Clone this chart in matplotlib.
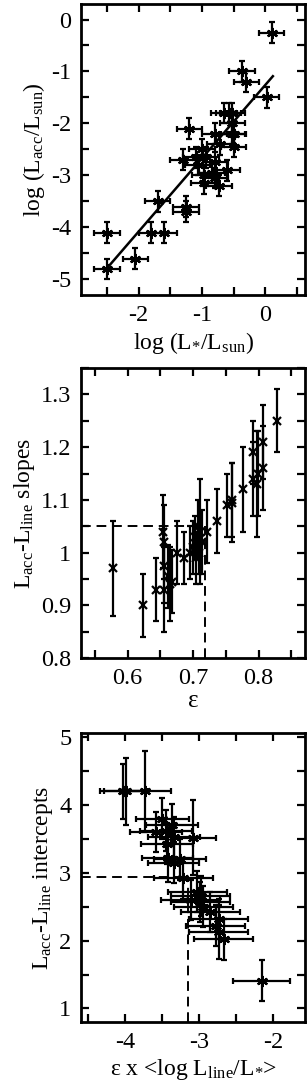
import matplotlib
matplotlib.use('Agg')
import matplotlib.pyplot as plt
import numpy as np
from matplotlib.ticker import MultipleLocator

# panel 1: log Lacc vs log L*
lstar = [0.10, -0.37, -0.30, 0.02, -1.20, -0.65, -0.58, -0.52, -0.52, -0.52, -0.50,
         -0.80, -0.50, -0.72, -1.00, -1.30, -1.10, -0.93, -1.07, -0.79, -0.84, -0.79,
         -0.60, -0.97, -0.73, -0.96, -1.70, -1.25, -1.25, -2.50, -1.80, -1.60, -2.05, -2.50]
lacc = [-0.25, -1.00, -1.20, -1.50, -2.10, -1.80, -1.80, -1.80, -2.00, -2.20, -2.20,
        -2.20, -2.45, -2.40, -2.50, -2.70, -2.65, -2.65, -2.80, -2.75, -2.95, -3.05,
        -2.90, -3.15, -3.20, -3.00, -3.50, -3.60, -3.70, -4.10, -4.10, -4.10, -4.60, -4.80]
fit_slope = 1.41
fit_icpt = -1.26
fit_x = [-2.52, 0.12]

# panel 2: slopes vs epsilon
eps = [0.578, 0.623, 0.643, 0.654, 0.655, 0.655, 0.656, 0.662, 0.665, 0.668,
       0.676, 0.686, 0.695, 0.700, 0.703, 0.705, 0.707, 0.709, 0.711, 0.714,
       0.721, 0.736, 0.752, 0.759, 0.760, 0.776, 0.792, 0.792, 0.797, 0.799,
       0.806, 0.806, 0.828]
slope = [0.97, 0.90, 0.93, 1.04, 1.02, 0.975, 0.93, 0.955, 0.94, 0.945,
         1.00, 0.99, 1.00, 1.01, 1.03, 0.99, 1.05, 1.00, 1.04, 1.02,
         1.04, 1.06, 1.09, 1.10, 1.095, 1.12, 1.19, 1.14, 1.13, 1.15,
         1.21, 1.16, 1.25]
slope_err = [0.09, 0.06, 0.06, 0.07, 0.07, 0.07, 0.08, 0.06, 0.07, 0.06,
             0.06, 0.05, 0.05, 0.05, 0.04, 0.05, 0.05, 0.04, 0.10, 0.06,
             0.06, 0.06, 0.06, 0.07, 0.075, 0.08, 0.06, 0.07, 0.10, 0.08,
             0.07, 0.08, 0.06]
eps_mark = 0.718
slope_mark = 1.05

# panel 3: intercepts vs eps x <log Lline/L*>
elog = [-4.03, -3.99, -3.73, -3.50, -3.59, -3.45, -3.37, -3.34, -3.08, -3.44,
        -3.43, -3.26, -3.35, -3.22, -3.03, -3.12, -2.98, -2.99, -2.95, -2.85,
        -2.74, -2.78, -2.74, -2.67, -2.16]
icpt = [4.20, 4.20, 4.20, 3.80, 3.60, 3.62, 3.71, 3.53, 3.52, 3.43,
        3.22, 3.20, 3.15, 2.92, 2.72, 2.60, 2.66, 2.57, 2.50, 2.42,
        2.32, 2.22, 2.13, 2.02, 1.41]
elog_err = [0.32, 0.30, 0.35, 0.36, 0.35, 0.35, 0.35, 0.35, 0.30, 0.35,
            0.35, 0.35, 0.35, 0.40, 0.40, 0.40, 0.40, 0.40, 0.40, 0.40,
            0.40, 0.40, 0.40, 0.40, 0.38]
icpt_err = [0.40, 0.50, 0.60, 0.30, 0.30, 0.30, 0.30, 0.30, 0.55, 0.30,
            0.35, 0.30, 0.30, 0.30, 0.30, 0.30, 0.30, 0.30, 0.30, 0.30,
            0.30, 0.30, 0.40, 0.30, 0.30]
elog_mark = -3.16
icpt_mark = 2.94

plt.rcParams['font.family'] = ['Liberation Serif', 'DejaVu Serif']
plt.rcParams['mathtext.fontset'] = 'custom'
plt.rcParams['mathtext.rm'] = 'Liberation Serif'
plt.rcParams['mathtext.it'] = 'Liberation Serif:italic'
plt.rcParams['axes.unicode_minus'] = False
plt.rcParams['font.size'] = 15

fig = plt.figure(figsize=(3.07, 10.9), dpi=100)
ax1 = fig.add_axes([0.264, 0.7294, 0.73, 0.267])
ax2 = fig.add_axes([0.264, 0.3963, 0.73, 0.266])
ax3 = fig.add_axes([0.264, 0.0624, 0.73, 0.265])


def style(ax, xmaj, xmin, ymaj, ymin):
    for s in ax.spines.values():
        s.set_linewidth(2)
    ax.xaxis.set_major_locator(MultipleLocator(xmaj))
    ax.xaxis.set_minor_locator(MultipleLocator(xmin))
    ax.yaxis.set_major_locator(MultipleLocator(ymaj))
    ax.yaxis.set_minor_locator(MultipleLocator(ymin))
    ax.tick_params(which='both', direction='in', top=True, right=True,
                   length=6, width=1.6)
    ax.tick_params(which='major', labelsize=17.5, pad=7)


ekw = dict(fmt='none', ecolor='k', elinewidth=1.6, capsize=2.5, capthick=1.6)
star = (6, 2, 0)

# panel 1
ax1.errorbar(lstar, lacc, xerr=0.2, yerr=0.2, **ekw)
ax1.plot(lstar, lacc, ls='none', marker=star, ms=8, mec='k', mew=1.6)
fx = np.array(fit_x)
ax1.plot(fx, fit_slope * fx + fit_icpt, color='k', lw=1.8)
ax1.set_xlim(-2.91, 0.63)
ax1.set_ylim(-5.3, 0.3)
style(ax1, 1, 0.5, 1, 0.5)
ax1.set_xlabel(r'log (L$_{\mathrm{*}}$/L$_{\rm sun}$)', fontsize=17, labelpad=3)
ax1.set_ylabel(r'log (L$_{\rm acc}$/L$_{\rm sun}$)', fontsize=17, labelpad=3)

# panel 2
ax2.errorbar(eps, slope, yerr=slope_err, **ekw)
ax2.plot(eps, slope, ls='none', marker='x', ms=6, mec='k', mew=1.6)
ax2.set_xlim(0.529, 0.871)
ax2.set_ylim(0.8, 1.35)
ax2.plot([0.529, eps_mark], [slope_mark, slope_mark], color='k', lw=1.4, ls=(0, (5, 3)))
ax2.plot([eps_mark, eps_mark], [0.8, slope_mark], color='k', lw=1.4, ls=(0, (5, 3)))
style(ax2, 0.1, 0.05, 0.1, 0.05)
ax2.set_yticks([0.8, 0.9, 1.0, 1.1, 1.2, 1.3], ['0.8', '0.9', '1', '1.1', '1.2', '1.3'])
ax2.set_xlabel('ε', fontsize=18, labelpad=1)
ax2.set_ylabel(r'L$_{\rm acc}$-L$_{\rm line}$ slopes', fontsize=17, labelpad=3)

# panel 3
ax3.errorbar(elog, icpt, xerr=elog_err, yerr=icpt_err, **ekw)
ax3.plot(elog, icpt, ls='none', marker=star, ms=8, mec='k', mew=1.6)
ax3.set_xlim(-4.6, -1.57)
ax3.set_ylim(0.8, 5.06)
ax3.plot([-4.6, elog_mark], [icpt_mark, icpt_mark], color='k', lw=1.4, ls=(0, (5, 3)))
ax3.plot([elog_mark, elog_mark], [0.8, icpt_mark], color='k', lw=1.4, ls=(0, (5, 3)))
style(ax3, 1, 0.5, 1, 0.5)
ax3.set_xlabel(r'ε x <log L$_{\rm line}$/L$_{\mathrm{*}}$>', fontsize=17, labelpad=3)
ax3.set_ylabel(r'L$_{\rm acc}$-L$_{\rm line}$ intercepts', fontsize=17, labelpad=3)

fig.savefig('out.png', dpi=100)
